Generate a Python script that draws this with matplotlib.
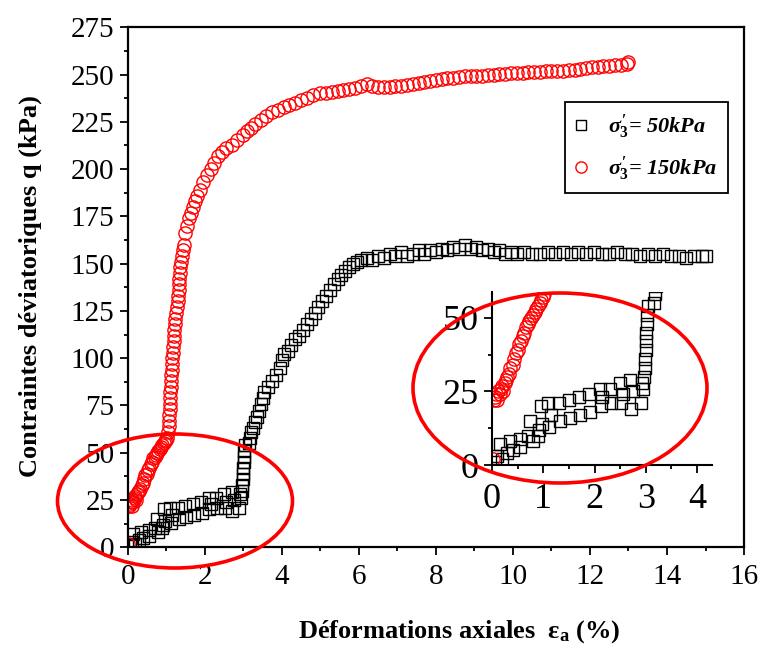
import matplotlib
matplotlib.use("Agg")
import matplotlib.pyplot as plt
from matplotlib.patches import Ellipse
from matplotlib.ticker import MultipleLocator

plt.rcParams["font.family"] = ["Liberation Serif", "DejaVu Serif"]
plt.rcParams["mathtext.fontset"] = "custom"
plt.rcParams["mathtext.rm"] = "Liberation Serif:bold"
plt.rcParams["mathtext.it"] = "Liberation Serif:italic:bold"
plt.rcParams["mathtext.bf"] = "Liberation Serif:bold"

# ===== données =====
# sigma3' = 50 kPa (carrés noirs)
strain_50 = [0.05, 0.1, 0.15, 0.2, 0.3, 0.35, 0.4, 0.55, 0.55, 0.7, 0.75, 0.8,
             0.9, 0.92, 0.95, 0.97, 1.1, 1.12, 1.15, 1.3, 1.32, 1.5, 1.52, 1.7,
             1.72, 1.9, 1.92, 2.1, 2.12, 2.15, 2.3, 2.32, 2.5, 2.52, 2.55, 2.7,
             2.72, 2.75, 2.9, 2.92, 2.95, 2.97, 2.98, 2.99, 3.0, 3.0, 3.01, 3.02,
             3.03, 3.04, 3.15, 3.17, 3.2, 3.25, 3.3,
             3.35, 3.4, 3.45, 3.5, 3.55, 3.65, 3.75, 3.85, 3.95, 4.0, 4.05, 4.15,
             4.25, 4.35, 4.45, 4.55, 4.65, 4.75, 4.85, 4.95, 5.05, 5.15, 5.25,
             5.35, 5.45, 5.55, 5.65, 5.75, 5.85, 5.95, 6.05, 6.2, 6.35, 6.5, 6.65,
             6.8, 6.95, 7.1, 7.25, 7.4, 7.55, 7.7, 7.85, 8.0, 8.15, 8.3, 8.45, 8.6,
             8.75, 8.9, 9.05, 9.2, 9.35, 9.5, 9.65, 9.8, 9.95, 10.1, 10.3, 10.5,
             10.7, 10.9, 11.1, 11.3, 11.5, 11.7, 11.9, 12.1, 12.3, 12.5, 12.7,
             12.9, 13.1, 13.3, 13.5, 13.7, 13.9, 14.1, 14.3, 14.5, 14.7, 14.9, 15.0]
q_50 = [1, 3, 7, 2, 4, 8, 5, 9, 6, 10, 15, 8,
        10, 12, 20, 14, 21, 13, 17, 21, 15, 22, 16, 23,
        17, 24, 18, 26, 20, 23, 26, 21, 28, 21, 24, 29,
        19, 25, 21, 28, 26, 30, 33, 36, 39, 42, 45, 48,
        51, 54, 55, 58, 61, 63, 66,
        69, 72, 76, 79, 82, 85, 88, 91, 95, 99, 102, 104,
        107, 110, 112, 115, 118, 121, 124, 127, 130, 133, 136,
        139, 142, 144, 146, 148, 150, 151, 152, 153, 152, 154, 153,
        155, 154, 156, 154, 155, 157, 155, 157, 156, 158, 157, 159, 158,
        160, 158, 159, 157, 158, 156, 157, 155, 156, 155, 156, 155,
        155, 156, 155, 156, 155, 156, 155, 156, 155, 155, 156,
        155, 155, 154, 155, 154, 155, 154, 154, 153, 154, 154, 154]

# sigma3' = 150 kPa (cercles rouges)
strain_150 = [0.02, 0.03, 0.05, 0.08, 0.1, 0.12, 0.15, 0.18, 0.2, 0.22, 0.25,
              0.28, 0.3, 0.33, 0.36, 0.4, 0.43, 0.46, 0.5, 0.53, 0.56, 0.6, 0.63,
              0.66, 0.7, 0.73, 0.76, 0.8, 0.83, 0.86, 0.9, 0.93, 0.96, 1.0,
              1.02, 1.04, 1.06, 1.07, 1.08, 1.09, 1.1, 1.1, 1.11, 1.12, 1.12, 1.13,
              1.14, 1.15, 1.16, 1.17, 1.18, 1.19, 1.2, 1.21, 1.22, 1.24, 1.26,
              1.28, 1.3, 1.31, 1.32, 1.33, 1.34, 1.35, 1.37, 1.39, 1.41, 1.43,
              1.45, 1.5, 1.55, 1.6, 1.65, 1.7, 1.75, 1.8, 1.87, 1.95, 2.05, 2.15,
              2.25, 2.35, 2.45, 2.55, 2.7, 2.85, 3.0, 3.1, 3.2, 3.3, 3.45, 3.6,
              3.75, 3.9, 4.05, 4.2, 4.35, 4.5, 4.65, 4.8, 5.0, 5.15, 5.3, 5.45,
              5.6, 5.75, 5.9, 6.05, 6.2, 6.35, 6.5, 6.65, 6.8, 6.95, 7.1, 7.25,
              7.4, 7.55, 7.7, 7.85, 8.0, 8.15, 8.3, 8.45, 8.6, 8.75, 8.9, 9.05,
              9.2, 9.35, 9.5, 9.65, 9.8, 9.95, 10.1, 10.25, 10.4, 10.55, 10.7,
              10.85, 11.0, 11.15, 11.3, 11.45, 11.6, 11.75, 11.9, 12.05, 12.2,
              12.35, 12.5, 12.65, 12.8, 12.95, 13.0]
q_150 = [2, 22, 23, 24, 22, 25, 24, 26, 27, 25, 28,
         29, 30, 31, 33, 34, 36, 38, 39, 41, 42, 44, 45,
         47, 48, 49, 50, 51, 52, 53, 54, 55, 56, 57,
         58, 61, 64, 67, 70, 73, 76, 79, 82, 85, 88, 91,
         94, 97, 100, 103, 106, 109, 112, 115, 118, 121, 124,
         127, 130, 133, 136, 139, 142, 145, 148, 151, 154, 157,
         160, 166, 170, 174, 177, 180, 183, 186, 189, 193, 197, 200,
         203, 207, 209, 211, 213, 215.5, 218, 220, 222, 224, 226, 228,
         230, 231.5, 233, 234, 235, 236.5, 237.5, 239, 240, 240.5, 241, 241.5,
         242, 242.5, 243, 244, 245, 244, 243.5, 243.5, 243.5, 244, 244, 244.5,
         245, 245.5, 246, 246.5, 247, 247.5, 248, 248, 248.5, 249, 249, 249.5,
         249.5, 250, 250, 250.5, 250.5, 251, 251, 251, 251.5, 251.5, 251.5,
         252, 252, 252, 252, 252.5, 252.5, 253, 253.5, 254, 254,
         254.5, 254.5, 255, 255, 255.5, 256.5]

labels = [r"$\sigma_3^{\prime}$= 50kPa", r"$\sigma_3^{\prime}$= 150kPa"]

x_ticks = [0, 2, 4, 6, 8, 10, 12, 14, 16]
y_ticks = [0, 25, 50, 75, 100, 125, 150, 175, 200, 225, 250, 275]
x_ticks_zoom = [0, 1, 2, 3, 4]
y_ticks_zoom = [0, 25, 50]


def style_series(ax, ms_sq, ms_ci):
    ax.plot(strain_50, q_50, ls="none", marker="s", ms=ms_sq, mfc="none",
            mec="black", mew=1.0, label=labels[0])
    ax.plot(strain_150, q_150, ls="none", marker="o", ms=ms_ci, mfc="none",
            mec="red", mew=1.0, label=labels[1])


fig = plt.figure(figsize=(7.6, 6.5), dpi=100)
ax = fig.add_axes([0.168, 0.158, 0.811, 0.800])
style_series(ax, 8.5, 9.5)

ax.set_xlim(0, 16)
ax.set_ylim(0, 275)
ax.set_xticks(x_ticks)
ax.set_yticks(y_ticks)
ax.xaxis.set_minor_locator(MultipleLocator(1))
ax.yaxis.set_minor_locator(MultipleLocator(12.5))
ax.tick_params(which="both", direction="out", top=False, right=False,
               labelsize=21, width=1.3)
ax.tick_params(which="major", length=6)
ax.tick_params(axis="x", which="major", pad=6)
ax.tick_params(which="minor", length=3)
for s in ax.spines.values():
    s.set_linewidth(1.6)

leg = ax.legend(loc="upper left", bbox_to_anchor=(565 / 760, 1 - 102 / 650),
                bbox_transform=fig.transFigure, borderaxespad=0, frameon=True,
                fancybox=False, edgecolor="black", framealpha=1,
                handlelength=0.5, handletextpad=1.0, labelspacing=0.6,
                borderpad=0.45, markerscale=0.85,
                prop={"family": "Liberation Serif", "weight": "bold",
                      "style": "italic", "size": 16})
leg.get_frame().set_linewidth(1.3)

fig.text(459 / 760, 1 - 632 / 650, "Déformations axiales  ε$_\\mathrm{a}$ (%)",
         ha="center", va="center", fontsize=19, fontweight="bold")
fig.text(30 / 760, 1 - 286 / 650, "Contraintes déviatoriques q (kPa)",
         ha="center", va="center", rotation=90, fontsize=19, fontweight="bold")

# zoom sur le début de l'essai
axin = fig.add_axes([492 / 760, 1 - 465 / 650, 220 / 760, 173 / 650])
axin.patch.set_alpha(0)
style_series(axin, 8.5, 9.5)
axin.set_xlim(0, 4.29)
axin.set_ylim(0, 58.8)
axin.set_xticks(x_ticks_zoom)
axin.set_yticks(y_ticks_zoom)
axin.xaxis.set_minor_locator(MultipleLocator(0.5))
axin.yaxis.set_minor_locator(MultipleLocator(12.5))
axin.tick_params(which="both", direction="out", labelsize=26, width=1.3)
axin.tick_params(which="major", length=6)
axin.tick_params(axis="x", which="major", pad=7)
axin.tick_params(which="minor", length=3)
axin.spines["top"].set_visible(False)
axin.spines["right"].set_visible(False)
for s in ["left", "bottom"]:
    axin.spines[s].set_linewidth(1.5)

# ellipses rouges
fig.add_artist(Ellipse((175 / 760, 1 - 501 / 650), 235 / 760, 134 / 650,
                       transform=fig.transFigure, fill=False, ec="red", lw=2.6))
fig.add_artist(Ellipse((560 / 760, 1 - 388 / 650), 294 / 760, 190 / 650,
                       transform=fig.transFigure, fill=False, ec="red", lw=2.6))

fig.savefig("out.png", dpi=100)
